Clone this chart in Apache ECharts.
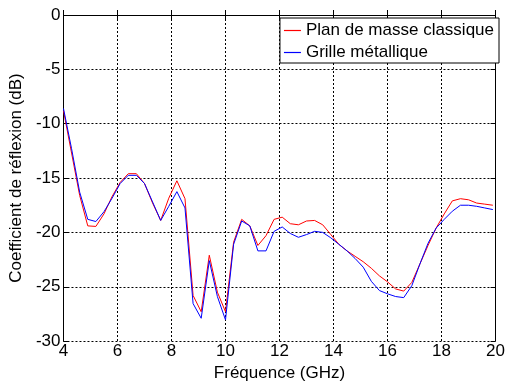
<!DOCTYPE html>
<html>
<head>
<meta charset="utf-8">
<script src="https://cdn.jsdelivr.net/npm/echarts@6/dist/echarts.min.js"></script>
<style>
html,body{margin:0;padding:0;background:#fff;}
#c{width:508px;height:387px;}
</style>
</head>
<body>
<div id="c"></div>
<script>
const freq = [4.0,4.3,4.6,4.9,5.2,5.5,5.8,6.1,6.4,6.7,7.0,7.3,7.6,7.9,8.2,8.5,8.8,9.1,9.4,9.7,10.0,10.3,10.6,10.9,11.2,11.5,11.8,12.1,12.4,12.7,13.0,13.3,13.6,13.9,14.2,14.5,14.8,15.1,15.4,15.7,16.0,16.3,16.6,16.9,17.2,17.5,17.8,18.1,18.4,18.7,19.0,19.3,19.6,19.9];
const planMasse = [-8.8,-12.7,-16.6,-19.4,-19.45,-18.3,-16.7,-15.4,-14.6,-14.6,-15.5,-17.3,-18.9,-16.85,-15.25,-16.9,-25.8,-27.3,-22.1,-25.5,-27.3,-20.9,-18.8,-19.4,-21.2,-20.3,-18.8,-18.6,-19.2,-19.3,-18.95,-18.9,-19.3,-20.2,-21.1,-21.7,-22.2,-22.7,-23.3,-24.0,-24.55,-25.2,-25.4,-24.6,-22.9,-21.2,-19.6,-18.3,-17.1,-16.9,-17.0,-17.3,-17.4,-17.5];
const grille = [-8.6,-12.3,-16.3,-18.8,-19.0,-18.1,-16.85,-15.5,-14.75,-14.75,-15.5,-17.2,-18.9,-17.6,-16.25,-17.75,-26.55,-27.9,-22.6,-25.9,-28.05,-21.1,-18.95,-19.4,-21.7,-21.7,-19.9,-19.5,-20.1,-20.45,-20.2,-19.9,-20.0,-20.5,-21.1,-21.7,-22.4,-23.2,-24.5,-25.35,-25.65,-25.9,-26.0,-24.9,-22.9,-21.0,-19.6,-18.8,-18.05,-17.5,-17.5,-17.6,-17.75,-17.9];
const seriesNames = ['Plan de masse classique','Grille métallique'];
const xTitle = 'Fréquence (GHz)';
const yTitle = 'Coefficient de réflexion (dB)';

const font = 'Liberation Sans, Arial, sans-serif';
const pair = (xs, ys) => xs.map((x, i) => [x, ys[i]]);
const chart = echarts.init(document.getElementById('c'), null, {renderer: 'canvas'});
const gridLine = {show: true, lineStyle: {color: '#000', width: 1, type: [2, 2]}};
chart.setOption({
  animation: false,
  backgroundColor: '#fff',
  grid: {left: 59.5, right: 9.5, top: 15, bottom: 37, containLabel: false},
  legend: {
    orient: 'vertical', right: 9, top: 18,
    backgroundColor: '#fff', borderColor: '#000', borderWidth: 1,
    padding: [4, 5, 2, 4], itemGap: 5, itemWidth: 17, itemHeight: 1.2,
    icon: 'rect',
    textStyle: {fontFamily: font, fontSize: 17, color: '#000'},
    data: seriesNames
  },
  xAxis: [{
    type: 'value', min: 4, max: 20, interval: 2, position: 'bottom',
    name: xTitle, nameLocation: 'middle', nameGap: 19,
    nameTextStyle: {fontFamily: font, fontSize: 17, color: '#000'},
    axisLine: {show: true, lineStyle: {color: '#000', width: 1}},
    axisTick: {show: true, inside: true, length: 5, lineStyle: {color: '#000'}},
    axisLabel: {fontFamily: font, fontSize: 17, color: '#000', margin: 2},
    splitLine: gridLine
  }, {
    type: 'value', min: 4, max: 20, interval: 2, position: 'top',
    axisLine: {show: true, onZero: false, lineStyle: {color: '#000', width: 1}},
    axisTick: {show: true, inside: true, length: 5, lineStyle: {color: '#000'}},
    axisLabel: {show: false}, splitLine: {show: false}
  }],
  yAxis: [{
    type: 'value', min: -30, max: 0, interval: 5, position: 'left',
    name: yTitle, nameLocation: 'middle', nameGap: 29, nameRotate: 90,
    nameTextStyle: {fontFamily: font, fontSize: 17, color: '#000'},
    axisLine: {show: true, onZero: false, lineStyle: {color: '#000', width: 1}},
    axisTick: {show: true, inside: true, length: 5, lineStyle: {color: '#000'}},
    axisLabel: {fontFamily: font, fontSize: 17, color: '#000', margin: 3},
    splitLine: gridLine
  }, {
    type: 'value', min: -30, max: 0, interval: 5, position: 'right',
    axisLine: {show: true, onZero: false, lineStyle: {color: '#000', width: 1}},
    axisTick: {show: true, inside: true, length: 5, lineStyle: {color: '#000'}},
    axisLabel: {show: false}, splitLine: {show: false}
  }],
  series: [{
    name: seriesNames[0], type: 'line', data: pair(freq, planMasse),
    showSymbol: false, symbol: 'none', color: '#ff0000',
    lineStyle: {color: '#ff0000', width: 1}, z: 3
  }, {
    name: seriesNames[1], type: 'line', data: pair(freq, grille),
    showSymbol: false, symbol: 'none', color: '#0000ff',
    lineStyle: {color: '#0000ff', width: 1}, z: 4
  }]
});
</script>
</body>
</html>
